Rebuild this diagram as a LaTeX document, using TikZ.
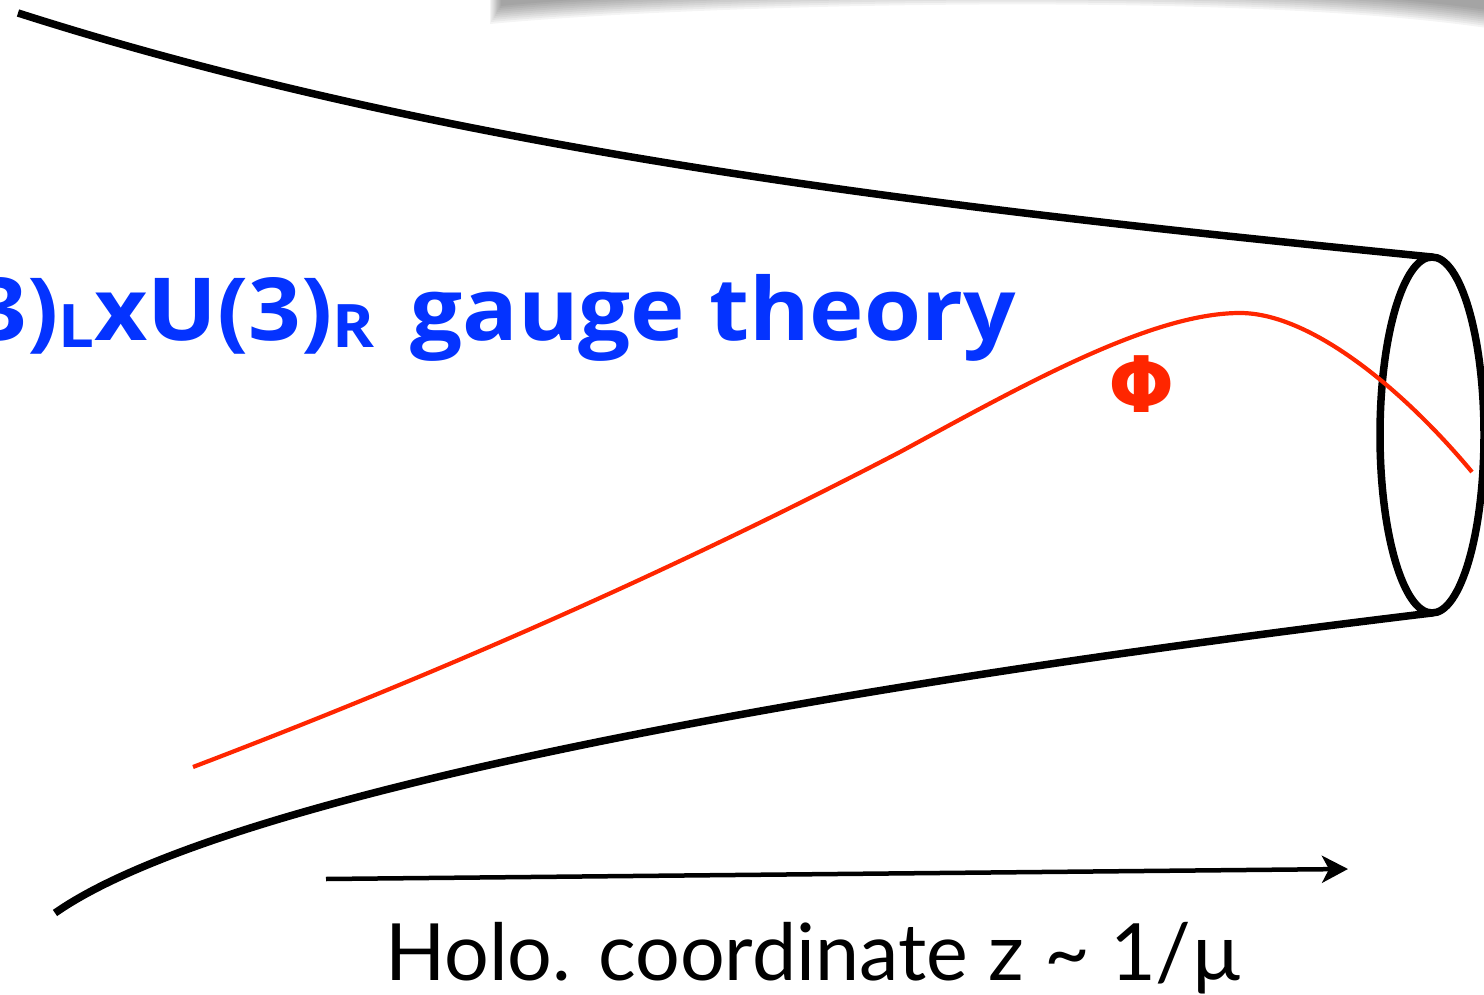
\documentclass[tikz,border=0pt]{standalone}
\usepackage{fontspec}
\usetikzlibrary{arrows.meta}
\newfontfamily\bluefont{Open Sans}[FakeStretch=1.06]
\newfontfamily\gillfont{Lato}
\newfontfamily\phifont{DejaVu Sans}
\definecolor{kblue}{RGB}{4,51,255}
\definecolor{kred}{RGB}{255,38,0}
\tikzset{
  tube/.style={line width=7.5pt, black},
  field/.style={line width=4.2pt, kred},
  axisarrow/.style={line width=4.5pt, black, -{Stealth[length=26pt,width=27pt,inset=7pt]}},
  bluetxt/.style={inner sep=0pt, text=kblue, font=\bluefont\bfseries\fontsize{87}{95}\selectfont},
  labeltxt/.style={inner sep=0pt, text=black, font=\gillfont\fontsize{79}{84}\selectfont},
  phitxt/.style={inner sep=0pt, text=kred, font=\phifont\bfseries\fontsize{78}{84}\selectfont}
}
\newcommand{\mysub}[1]{\raisebox{-7pt}{\bluefont\bfseries\fontsize{60}{64}\selectfont #1}}
\begin{document}
\begin{tikzpicture}[x=1pt,y=-1pt]
\useasboundingbox (0,0) rectangle (1484,995);
\clip (0,0) rectangle (1484,995);
% shadow at top
\foreach \k in {0,2,...,18} {
  \fill[black, opacity=0.045] (490+0.6*\k,-30) -- (490+0.6*\k,24-\k)
     .. controls (700,4-\k) and (1250,-10-\k) .. (1500,30-\k) -- (1500,-30) -- cycle;
}
% coordinates
\coordinate (ts) at (18,13);
\coordinate (te) at (1432,257);
\coordinate (bs) at (55,913);
\coordinate (be) at (1432,613);
\coordinate (c) at (1432,435);
\coordinate (r0) at (193,767);
\coordinate (r1) at (900,452);
\coordinate (r2) at (1240,313);
\coordinate (r3) at (1472,472);
\coordinate (a1) at (326,879);
\coordinate (a2) at (1348,869);
% tube
\draw[tube] (ts) .. controls (468,157) and (982,212) .. (te);
\draw[tube] (bs) .. controls (235,787) and (882,679) .. (be);
\draw[tube] (c) ellipse [x radius=52, y radius=178];
% field
\draw[field] (r0) .. controls (429,677) and (664,575) .. (r1)
   .. controls (1020,387) and (1150,313) .. (r2)
   .. controls (1310,313) and (1402,388) .. (r3);
% axis
\draw[axisarrow] (a1) -- (a2);
% texts
\node[bluetxt, anchor=base east] (gl) at (375,340) {U(3)\mysub{L}xU(3)\mysub{R}};
\node[bluetxt, anchor=base west] (gt) at (410,340) {gauge theory};
\node[phitxt] (phi) at (1142,384) {Φ};
\node[labeltxt, anchor=base west] (hol) at (385,980) {Holo. coordinate z \textasciitilde{} 1/µ};
\end{tikzpicture}
\end{document}
